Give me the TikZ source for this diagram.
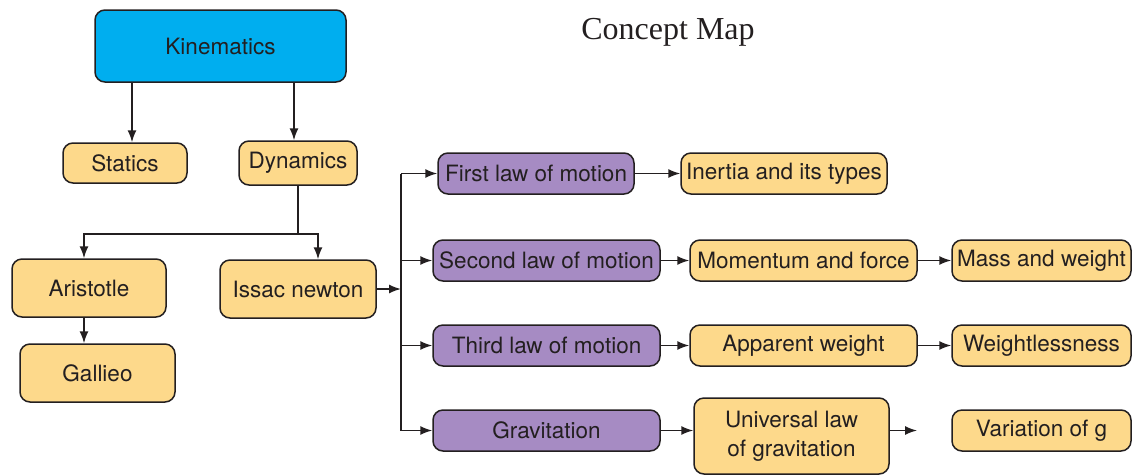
\documentclass[tikz,border=0pt]{standalone}
\usepackage{fontspec}
\setmainfont{TeX Gyre Heros}
\newfontfamily\titlefont{Liberation Serif}
\usetikzlibrary{arrows.meta}
\definecolor{kincyan}{HTML}{00AEEF}
\definecolor{boxorange}{HTML}{FDD98B}
\definecolor{lawpurple}{HTML}{A68BC3}
\definecolor{edge}{HTML}{231F20}
\begin{document}
\begin{tikzpicture}[x=1pt,y=-1pt,
        box/.style={draw=edge,line width=1.5pt,rounded corners=10pt,inner sep=0pt,text=edge,align=center,font=\fontsize{22.5}{29}\selectfont},
        topic/.style={box,fill=kincyan},
        idea/.style={box,fill=boxorange},
        law/.style={box,fill=lawpurple},
        link/.style={draw=edge,line width=1.5pt,-{Latex[length=12pt,width=9pt]}},
        trunk/.style={draw=edge,line width=1.5pt}]
        \useasboundingbox(0,0)rectangle(1132,475);
        \node[topic,minimum width=251pt,minimum height=72pt](1)at(220.5,46){Kinematics};
        \node[idea,minimum width=124pt,minimum height=40pt](2)at(125,163){Statics};
        \node[idea,minimum width=118pt,minimum height=44pt](3)at(298,163){Dynamics};
        \node[idea,minimum width=154pt,minimum height=58pt](4)at(89,288){Aristotle};
        \node[idea,minimum width=155pt,minimum height=58pt](5)at(97.5,373){Gallieo};
        \node[idea,minimum width=156pt,minimum height=58pt](6)at(298,289){Issac newton};
        \node[law,minimum width=196pt,minimum height=41pt](7)at(536,173.5){First law of motion};
        \node[law,minimum width=227pt,minimum height=41pt](8)at(546.5,260.5){Second law of motion};
        \node[law,minimum width=227pt,minimum height=41pt](9)at(546.5,345.5){Third law of motion};
        \node[law,minimum width=227pt,minimum height=41pt](10)at(546.5,430.5){Gravitation};
        \node[idea,minimum width=206pt,minimum height=41pt](11)at(784,173.5){Inertia and its types};
        \node[idea,minimum width=227pt,minimum height=41pt](12)at(803.5,260.5){Momentum and force};
        \node[idea,minimum width=179pt,minimum height=41pt](13)at(1041.5,260.5){Mass and weight};
        \node[idea,minimum width=227pt,minimum height=41pt](14)at(803.5,345.5){Apparent weight};
        \node[idea,minimum width=179pt,minimum height=41pt](15)at(1041.5,345.5){Weightlessness};
        \node[idea,minimum width=195pt,minimum height=76pt](16)at(791.5,436){Universal law\\of gravitation};
        \node[idea,minimum width=179pt,minimum height=41pt](17)at(1041.5,430.5){Variation of g};
        \node[text=edge,font=\titlefont\fontsize{32}{36}\selectfont](18)at(668,32){Concept Map};
        \coordinate(19)at(298,234);
        \coordinate(20)at(917,430.5);
        \draw[link](1.south-|132,0)--(2.north-|132,0);
        \draw[link](1.south-|294,0)--(3.north-|294,0);
        \draw[trunk](3.south)--(19);
        \draw[link](19)-|(4.north-|84,0);
        \draw[link](19)-|(6.north-|318,0);
        \draw[link](4.south-|84,0)--(5.north-|84,0);
        \draw[trunk](7.west-|401,0)--(10.west-|401,0);
        \draw[link](6.east)--(6.east-|401,0);
        \draw[link](7.west-|401,0)--(7.west);
        \draw[link](8.west-|401,0)--(8.west);
        \draw[link](9.west-|401,0)--(9.west);
        \draw[link](10.west-|401,0)--(10.west);
        \draw[link](7)--(11);
        \draw[link](8)--(12);
        \draw[link](12)--(13);
        \draw[link](9)--(14);
        \draw[link](14)--(15);
        \draw[link](10.east)--(10.east-|16.west);
        \draw[link](16.east|-20)--(20);
    \end{tikzpicture}
\end{document}
